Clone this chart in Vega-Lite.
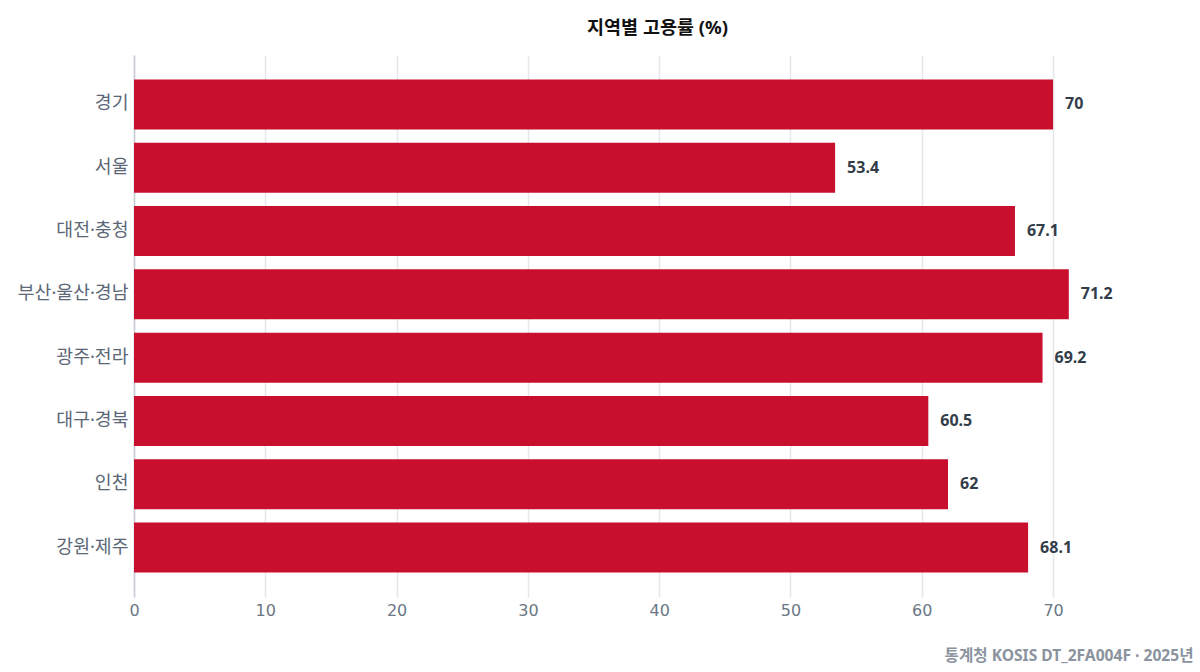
{
  "$schema": "https://vega.github.io/schema/vega-lite/v6.json",
  "autosize": {"type": "none"},
  "width": 965,
  "height": 542,
  "padding": {"left": 134, "top": 55, "right": 101, "bottom": 75},
  "background": "white",
  "config": {
    "font": "Noto Sans, Noto Sans CJK KR",
    "view": {"stroke": null}
  },
  "title": {
    "text": "지역별 고용률 (%)",
    "font": "Noto Sans, Noto Sans CJK KR",
    "fontSize": 18.5,
    "fontWeight": "bold",
    "color": "#111111",
    "anchor": "middle",
    "dx": 41,
    "offset": 18
  },
  "data": {
    "values": [
      {"region": "경기", "rate": 70},
      {"region": "서울", "rate": 53.4},
      {"region": "대전·충청", "rate": 67.1},
      {"region": "부산·울산·경남", "rate": 71.2},
      {"region": "광주·전라", "rate": 69.2},
      {"region": "대구·경북", "rate": 60.5},
      {"region": "인천", "rate": 62},
      {"region": "강원·제주", "rate": 68.1}
    ]
  },
  "encoding": {
    "y": {
      "field": "region",
      "type": "nominal",
      "sort": null,
      "scale": {"paddingInner": 0.21, "paddingOuter": 0.385},
      "axis": {
        "title": null,
        "ticks": false,
        "domainColor": "#c8ccd4",
        "domainWidth": 1.5,
        "labelFont": "Noto Sans, Noto Sans CJK KR",
        "labelFontSize": 18.3,
        "labelColor": "#5b6777",
        "labelPadding": 6
      }
    },
    "x": {
      "field": "rate",
      "type": "quantitative",
      "scale": {"domain": [0, 73.5], "nice": false},
      "axis": {
        "values": [0, 10, 20, 30, 40, 50, 60, 70],
        "domain": false,
        "ticks": false,
        "gridColor": "#e6e6ec",
        "gridWidth": 1.5,
        "labelFont": "DejaVu Sans",
        "labelFontSize": 16,
        "labelColor": "#6b7785",
        "labelPadding": 5,
        "labelFlush": false,
        "title": "통계청 KOSIS DT_2FA004F · 2025년",
        "titleFont": "Noto Sans, Noto Sans CJK KR",
        "titleFontSize": 15.6,
        "titleFontWeight": "bold",
        "titleColor": "#8a939e",
        "titleAnchor": "end",
        "titleAlign": "right",
        "titleBaseline": "alphabetic",
        "titleX": 1059,
        "titleY": 63
      }
    }
  },
  "layer": [
    {
      "mark": {"type": "bar", "color": "#c8102e"}
    },
    {
      "mark": {
        "type": "text",
        "align": "left",
        "baseline": "middle",
        "dx": 12,
        "fontSize": 16,
        "fontWeight": "bold",
        "color": "#333d4a"
      },
      "encoding": {
        "text": {"field": "rate", "type": "quantitative"}
      }
    }
  ]
}
